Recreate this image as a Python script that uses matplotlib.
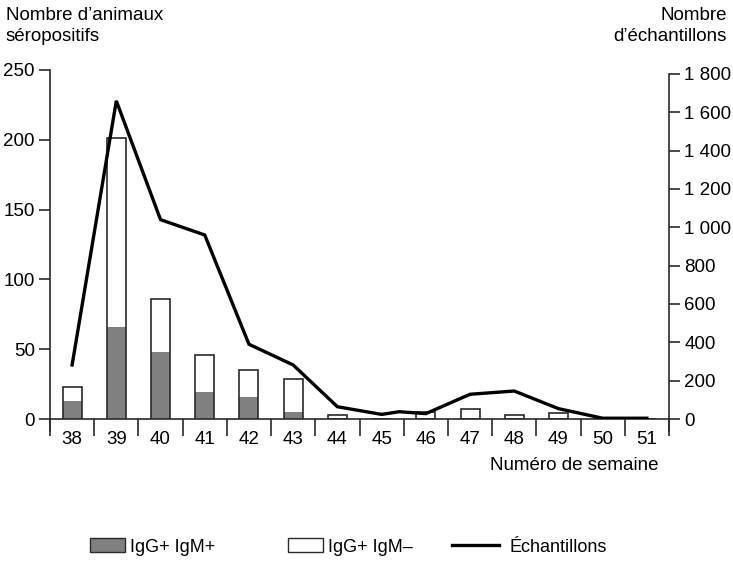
import matplotlib
matplotlib.use("Agg")
import matplotlib.pyplot as plt
from matplotlib.patches import Patch
from matplotlib.lines import Line2D
import numpy as np

plt.rcParams['font.family'] = ['Liberation Sans', 'DejaVu Sans']

weeks = [38, 39, 40, 41, 42, 43, 44, 45, 46, 47, 48, 49, 50, 51]
igg_igm_pos = [13, 66, 48, 19, 16, 5, 0, 0, 0, 0, 0, 0, 0, 0]
igg_igm_neg = [10, 135, 38, 27, 19, 24, 3, 0, 5, 7, 3, 4, 0, 0]

sample_weeks = [38, 39, 40, 41, 42, 43, 44, 45, 45.4, 46, 47, 48, 49, 50, 51]
samples = [282, 1660, 1040, 960, 390, 282, 64, 24, 38, 28, 129, 146, 54, 4, 4]

left_ticks = [0, 50, 100, 150, 200, 250]
right_ticks = [0, 200, 400, 600, 800, 1000, 1200, 1400, 1600, 1800]
right_labels = ["0", "200", "400", "600", "800", "1 000", "1 200", "1 400", "1 600", "1 800"]

GRAY = '#808080'
EDGE = '#2a2a2a'
FS = 13.5
LFS = 13

fig = plt.figure(figsize=(7.33, 5.62), dpi=100)
ax = fig.add_axes([50/733, 1-419/562, (669-50)/733, (419-70)/562])

total = np.array(igg_igm_pos) + np.array(igg_igm_neg)
w = 0.43
ax.bar(weeks, total, width=w, facecolor='white', edgecolor='none', zorder=2)
ax.bar(weeks, igg_igm_pos, width=w, facecolor=GRAY, edgecolor='none', zorder=3)
ax.bar(weeks, total, width=w, fill=False, edgecolor=EDGE, linewidth=1.2, zorder=4)

ax.set_xlim(37.5, 51.5)
ax.set_ylim(0, 250)
ax.spines['top'].set_visible(False)
ax.spines['right'].set_visible(False)
for s in ['left', 'bottom']:
    ax.spines[s].set_linewidth(1.2)
    ax.spines[s].set_color(EDGE)

ax.set_yticks(left_ticks)
ax.set_yticklabels([str(t) for t in left_ticks])
ax.tick_params(axis='y', direction='out', length=8, width=1.2, color=EDGE, labelsize=FS, pad=3)

ax.set_xticks(weeks)
ax.set_xticklabels([str(wk) for wk in weeks])
ax.set_xticks(np.arange(37.5, 52, 1.0), minor=True)
ax.tick_params(axis='x', which='major', length=0, labelsize=FS, pad=9)
ax.tick_params(axis='x', which='minor', direction='out', length=12, width=1.2, color=EDGE)

ax2 = ax.twinx()
ax2.set_ylim(0, 1800 * 349 / 345)
ax2.plot(sample_weeks, samples, color='black', linewidth=2.4, solid_joinstyle='miter', zorder=5)
for s in ['top', 'left', 'bottom']:
    ax2.spines[s].set_visible(False)
ax2.spines['right'].set_bounds(0, 1800)
ax2.spines['right'].set_linewidth(1.2)
ax2.spines['right'].set_color(EDGE)
ax2.set_yticks(right_ticks)
ax2.set_yticklabels(right_labels)
ax2.tick_params(axis='y', direction='out', length=8, width=1.2, color=EDGE, labelsize=FS, pad=3)

# extend left and right spines below zero like in the reference
ax.plot([37.5, 37.5], [0, -8.5], color=EDGE, lw=1.2, clip_on=False)
ax.plot([51.5, 51.5], [0, -8.5], color=EDGE, lw=1.2, clip_on=False)

fig.text(6/733, 1-26/562, "Nombre d\u2019animaux\nséropositifs", ha='left', va='center',
         fontsize=FS, linespacing=1.25)
fig.text(727/733, 1-26/562, "Nombre\nd\u2019échantillons", ha='right', va='center',
         fontsize=FS, linespacing=1.25)
fig.text(658/733, 1-465/562, "Numéro de semaine", ha='right', va='center', fontsize=FS)

# legend entries
h1 = Patch(facecolor=GRAY, edgecolor=EDGE, linewidth=1.0)
h2 = Patch(facecolor='white', edgecolor=EDGE, linewidth=1.0)
h3 = Line2D([], [], color='black', linewidth=2.4)
common = dict(frameon=False, fontsize=LFS, handlelength=1.94, handleheight=0.78,
              handletextpad=0.28, borderpad=0, borderaxespad=0, loc='center left')
ly = 1 - 547/562
fig.legend([h1], ["IgG+ IgM+"], bbox_to_anchor=(90/733, ly), **common)
fig.legend([h2], ["IgG+ IgM\u2013"], bbox_to_anchor=(288/733, ly), **common)
common3 = dict(common)
common3['handlelength'] = 2.6
common3['handletextpad'] = 0.6
fig.legend([h3], ["Échantillons"], bbox_to_anchor=(452/733, ly), **common3)

fig.savefig("out.png", dpi=100)
